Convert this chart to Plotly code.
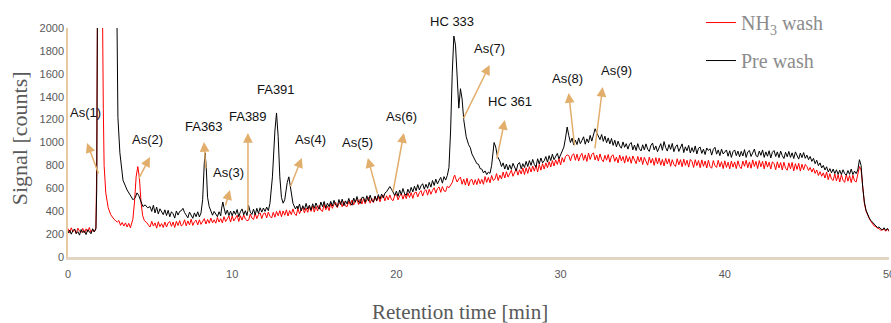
import plotly.graph_objects as go


def grid(a, b):
    """Sampling times (min) of the detector, every 0.1 min from a to b."""
    n = int(round((b - a) / 0.1)) + 1
    return [round(a + 0.1 * i, 2) for i in range(n)]


# ---------------- data ----------------
pre_wash_t = (grid(0.0, 1.6)
              + [1.7, 1.75, 1.8, 2.2, 2.6, 2.9, 2.98, 3.04, 3.16, 3.35, 3.6, 3.8, 3.96, 4.1, 4.2, 4.3, 4.45, 4.56, 4.7, 4.85]
              + grid(5.0, 8.3) + [8.35, 8.42] + grid(8.5, 9.3) + [9.35, 9.43] + grid(9.5, 12.3) + [12.45]
              + grid(12.6, 13.2) + [13.35, 13.45, 13.55, 13.7, 13.85, 13.95] + grid(14.0, 24.1) + [24.25]
              + grid(24.4, 25.8) + [25.95, 26.05, 26.15] + grid(26.3, 50.0))
pre_wash_signal = [
    208, 236, 199, 230, 245, 204, 222, 191, 240, 213, 229, 196, 238, 215, 203, 247, 219,
    245, 600, 2500, 3200, 3000, 2600, 2100, 1220, 910, 670, 585, 540, 500, 520, 560, 540, 470, 440, 455, 430,
    440, 398, 452, 385, 436, 376, 421, 392, 370, 412,
    362, 408, 351, 395, 378, 340, 402, 366, 398, 405,
    425, 388, 360, 342, 392, 358, 338, 385, 352, 395,
    350, 385, 500, 820,
    910, 780,
    520, 440, 400, 365, 398, 372, 352, 395, 360,
    420, 480,
    430, 372, 410, 362, 400,
    360, 402, 371, 415, 352, 395, 420, 368, 404, 362,
    450, 392, 372, 418, 368, 425, 380, 430, 392, 428,
    398, 436, 405, 470,
    700,
    1100, 1258, 1050, 700, 520, 470, 500,
    650, 700, 600, 470, 420, 445,
    420, 462, 402, 448, 415, 468, 418, 452, 410, 465,
    425, 472, 438, 418, 480, 440, 485, 428, 470, 440,
    486, 445, 495, 452, 438, 502, 458, 505, 448, 490,
    462, 512, 470, 452, 515, 478, 528, 480, 468, 520,
    522, 478, 535, 488, 540, 495, 480, 532, 492, 545,
    505, 550, 515, 558, 570, 595, 615, 592, 570, 538,
    575, 530, 585, 545, 598, 552, 538, 592, 558, 608,
    568, 618, 578, 632, 585, 622, 640, 592, 635, 600,
    652, 610, 668, 625, 680, 638, 668, 695, 645, 702,
    672, 712, 780, 1100, 1600, 1930, 1850, 1500, 1300, 1470,
    1380, 1200,
    1050,
    980, 955, 900, 875, 850, 815, 810, 772, 768, 735, 752, 720, 742, 730, 800,
    1000, 960, 880,
    838, 790, 822, 768, 812, 760, 805,
    765, 818, 778, 752, 812, 825, 770, 815, 782, 835,
    790, 842, 800, 852, 808, 785, 858, 812, 865, 822,
    840, 878, 828, 885, 842, 898, 850, 882, 905, 858,
    890, 925, 960, 1040, 1135, 1060, 1000, 1038, 978, 1020,
    982, 1040, 990, 1018, 1050, 985, 1032, 998, 1062, 1012,
    1075, 1120, 1085, 1050, 1025, 1070, 1010, 1055, 998, 1040,
    988, 1035, 975, 1020, 962, 1012, 970, 950, 1005, 958,
    990, 942, 985, 1000, 936, 978, 930, 990, 945, 926,
    980, 935, 988, 942, 922, 975, 995, 935, 970, 920,
    965, 990, 932, 1008, 955, 925, 982, 940, 992, 920,
    962, 980, 922, 955, 988, 912, 962, 928, 975, 908,
    955, 915, 970, 900, 950, 960, 905, 942, 895, 952,
    930, 945, 890, 940, 958, 898, 935, 885, 942, 900,
    918, 935, 880, 928, 870, 920, 935, 885, 925, 875,
    922, 882, 938, 870, 918, 930, 878, 915, 942, 885,
    875, 925, 888, 935, 870, 918, 880, 928, 865, 915,
    930, 878, 918, 868, 925, 885, 860, 915, 875, 922,
    870, 910, 860, 918, 878, 855, 908, 868, 912, 862,
    890, 850, 878, 835, 862, 815, 845, 798, 822, 778,
    800, 760, 788, 742, 772, 735, 768, 728, 762, 722,
    758, 720, 762, 728, 715, 755, 722, 768, 720, 750,
    728, 760, 850, 800, 610, 480, 410, 372, 340, 318,
    300, 282, 272, 258, 262, 245, 238, 255, 232, 250,
    230]

nh3_wash_t = (grid(0.0, 1.6) + [1.7, 1.75, 1.8, 2.0, 2.1, 2.15, 2.2, 2.3, 2.45] + grid(2.6, 3.9)
              + [3.95, 4.05, 4.15, 4.25, 4.35, 4.45, 4.55, 4.65] + grid(4.8, 23.5) + [23.55] + grid(23.6, 50.0))
nh3_wash_signal = [
    248, 212, 255, 220, 242, 205, 252, 226, 214, 250, 210, 246, 219, 258, 212, 240, 218,
    255, 800, 2400, 2600, 2200, 1300, 800, 560, 430,
    370, 345, 330, 318, 305, 318, 276, 302, 270, 298, 262, 294, 255, 305,
    330, 480, 700, 790, 690, 470, 360, 318,
    300, 278,
    262, 312, 270, 298, 252, 308, 265, 292, 258, 305,
    262, 298, 310, 268, 305, 258, 312, 275, 318, 270,
    285, 325, 272, 315, 280, 330, 276, 308, 322, 280,
    325, 285, 312, 335, 288, 328, 295, 340, 298, 325,
    295, 345, 305, 335, 298, 352, 310, 340, 358, 305,
    358, 315, 348, 365, 310, 360, 322, 368, 332, 318,
    322, 375, 340, 328, 382, 335, 370, 385, 336, 378,
    385, 342, 392, 356, 340, 390, 348, 398, 360, 405,
    352, 402, 365, 412, 358, 405, 370, 420, 378, 362,
    425, 378, 412, 432, 385, 428, 390, 440, 398, 445,
    392, 442, 402, 452, 408, 398, 460, 412, 445, 405,
    470, 425, 460, 478, 432, 468, 482, 438, 485, 445,
    440, 490, 452, 498, 455, 492, 502, 458, 508, 462,
    510, 465, 500, 520, 470, 512, 475, 528, 488, 530,
    482, 528, 540, 490, 535, 498, 542, 502, 492, 540,
    548, 500, 532, 555, 505, 550, 510, 560, 520, 562,
    512, 560, 568, 525, 562, 580, 532, 572, 588, 540,
    592, 548, 582, 605, 558, 598, 612, 565, 615, 578,
    572, 618, 605, 632, 650, 700,
    716,
    690, 655, 682, 698,
    635, 680, 628, 688, 620, 670, 678, 630, 675, 632,
    685, 640, 678, 635, 702, 652, 695, 648, 712, 668,
    680, 728, 668, 715, 682, 742, 690, 745, 698, 730,
    758, 705, 745, 770, 715, 762, 725, 778, 720, 780,
    730, 788, 742, 795, 750, 802, 742, 808, 758, 815,
    768, 822, 780, 832, 786, 842, 795, 848, 808, 860,
    805, 868, 828, 878, 892, 885, 840, 888, 902, 845,
    898, 838, 882, 905, 845, 892, 835, 908, 852, 895,
    910, 848, 890, 838, 900, 852, 832, 888, 845, 895,
    828, 882, 892, 835, 872, 822, 890, 840, 878, 820,
    885, 832, 875, 818, 882, 838, 815, 878, 830, 872,
    808, 870, 828, 802, 872, 820, 862, 800, 868, 812,
    865, 802, 852, 795, 862, 812, 858, 792, 850, 808,
    790, 858, 805, 850, 788, 855, 800, 845, 785, 852,
    835, 782, 850, 798, 842, 780, 848, 792, 838, 778,
    845, 790, 775, 842, 798, 782, 845, 788, 832, 772,
    840, 782, 828, 770, 838, 785, 830, 772, 840, 790,
    772, 838, 792, 845, 780, 830, 775, 848, 790, 835,
    772, 842, 788, 835, 770, 838, 785, 828, 768, 832,
    815, 762, 832, 778, 825, 760, 828, 775, 758, 822,
    770, 826, 752, 815, 765, 818, 750, 810, 762, 808,
    790, 755, 782, 742, 775, 730, 760, 712, 745, 705,
    735, 690, 742, 675, 728, 680, 668, 725, 665, 720,
    655, 718, 670, 652, 720, 662, 712, 650, 715, 665,
    655, 712, 790, 760, 600, 470, 400, 362, 335, 310,
    290, 270, 265, 250, 248, 232, 238, 242, 225, 245,
    222]

assert len(pre_wash_t) == len(pre_wash_signal), (len(pre_wash_t), len(pre_wash_signal))
assert len(nh3_wash_t) == len(nh3_wash_signal), (len(nh3_wash_t), len(nh3_wash_signal))

x_ticks = [0, 10, 20, 30, 40, 50]
y_ticks = [0, 200, 400, 600, 800, 1000, 1200, 1400, 1600, 1800, 2000]

# peak labels: text, label x, label y
peak_labels = ["As(1)", "As(2)", "FA363", "As(3)", "FA389", "FA391", "As(4)", "As(5)",
               "As(6)", "As(7)", "HC 361", "As(8)", "As(9)"]
label_x = [1.05, 4.87, 8.28, 9.8, 10.96, 12.66, 14.79, 17.65, 20.33, 25.68, 26.9, 30.43, 33.41]
label_y = [1258, 1022, 1144, 742, 1231, 1459, 1022, 1004, 1223, 1817, 1354, 1563, 1625]
top_label = "HC 333"
top_label_x = 23.37

# arrows: head (x, y) and tail (x, y)
arrow_head_x = [1.16, 4.99, 8.28, 9.86, 10.96, 14.24, 18.26, 20.45, 25.68, 26.6, 30.49, 32.56]
arrow_head_y = [996, 873, 1004, 585, 1083, 865, 865, 1083, 1677, 1197, 1432, 1485]
arrow_tail_x = [1.89, 4.26, 8.40, 9.56, 10.96, 13.51, 18.87, 19.78, 24.04, 26.1, 30.86, 32.08]
arrow_tail_y = [716, 672, 760, 437, 384, 603, 541, 559, 1197, 847, 961, 935]

# ---------------- figure ----------------
label_font = dict(family="Liberation Sans Narrow, Liberation Sans, sans-serif", size=13, color="#111111")
tick_font = dict(family="Liberation Sans Narrow, Liberation Sans, sans-serif", size=11, color="#595959")

fig = go.Figure()
fig.add_trace(go.Scatter(x=nh3_wash_t, y=nh3_wash_signal, mode="lines",
                         name="NH<sub>3</sub> wash", line=dict(color="#FF0000", width=1),
                         legendgroup="a"))
fig.add_trace(go.Scatter(x=pre_wash_t, y=pre_wash_signal, mode="lines",
                         name="Pre wash", line=dict(color="#000000", width=1),
                         legendgroup="b"))

arrow_color = "#E2AE6C"
for hx, hy, tx, ty in zip(arrow_head_x, arrow_head_y, arrow_tail_x, arrow_tail_y):
    fig.add_annotation(x=hx, y=hy, ax=tx, ay=ty, xref="x", yref="y", axref="x", ayref="y",
                       text="", showarrow=True, arrowhead=2, arrowsize=1.3, arrowwidth=1.5,
                       arrowcolor=arrow_color)

for t, lx, ly in zip(peak_labels, label_x, label_y):
    fig.add_annotation(x=lx, y=ly, xref="x", yref="y", text=t, showarrow=False, font=label_font)

fig.add_annotation(x=top_label_x, y=1, xref="x", yref="paper", yanchor="bottom", yshift=-3,
                   text=top_label, showarrow=False, font=label_font)

# axis titles
fig.add_annotation(x=-0.058, y=0.52, xref="paper", yref="paper", xanchor="center", yanchor="middle",
                   text="Signal [counts]", textangle=-90, showarrow=False,
                   font=dict(family="Liberation Serif, serif", size=22, color="#595959"))
fig.add_annotation(x=0.4775, y=-0.24, xref="paper", yref="paper", xanchor="center", yanchor="middle",
                   text="Retention time [min]", showarrow=False,
                   font=dict(family="Liberation Serif, serif", size=21, color="#595959"))

fig.update_layout(
    width=891, height=323,
    margin=dict(l=68, r=2, t=28, b=66, autoexpand=False),
    paper_bgcolor="white", plot_bgcolor="white",
    showlegend=True,
    legend=dict(x=0.771, y=1.109, xanchor="left", yanchor="top",
                font=dict(family="Liberation Serif, serif", size=20, color="#8C8C8C"),
                bgcolor="rgba(0,0,0,0)", itemwidth=30, tracegroupgap=9),
    xaxis=dict(range=[0, 50], tickvals=x_ticks, showgrid=False, zeroline=False, automargin=False,
               showline=True, linecolor="#E3D5C3", linewidth=3, ticks="", tickfont=tick_font,
               ticklabeloverflow="allow", ticklabelstandoff=5),
    yaxis=dict(range=[0, 2000], tickvals=y_ticks, showgrid=False, zeroline=False, automargin=False,
               showline=True, linecolor="#E8C9A0", linewidth=1.5, ticks="", tickfont=tick_font),
)

# the page's default 8px body margin would shift the 891x323 figure inside the window
fig.write_html("out.html", config={"displayModeBar": False},
               post_script="document.body.style.margin='0px';")
